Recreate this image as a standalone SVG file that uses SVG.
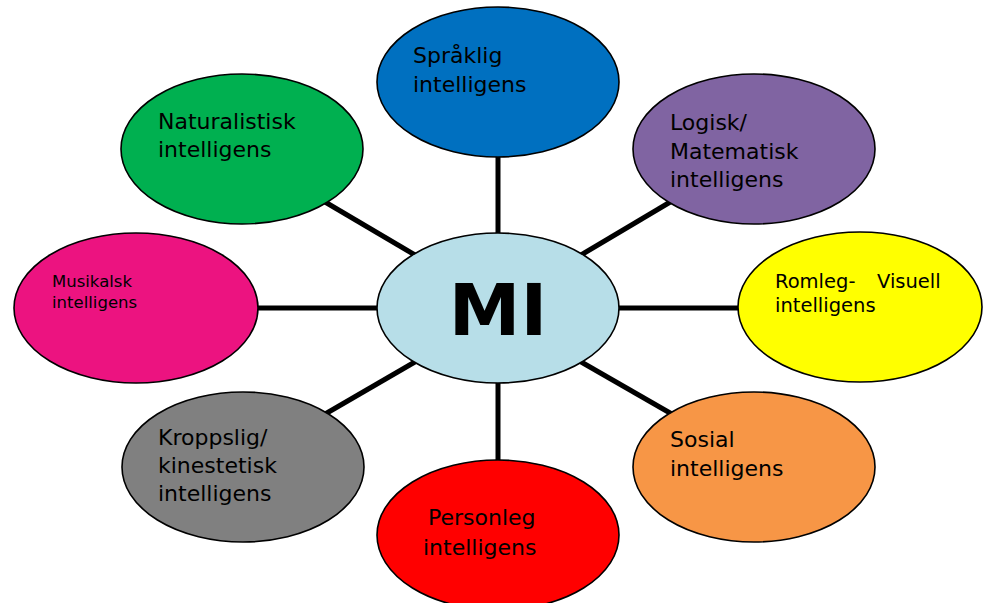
<svg xmlns="http://www.w3.org/2000/svg" width="986" height="603" viewBox="0 0 986 603">
<style>
.n{stroke:#000;stroke-width:1.6}
.t{font-family:"DejaVu Sans","Liberation Sans",sans-serif;font-size:22px;fill:#000}
.c line{stroke:#000;stroke-width:5}
</style>
<rect width="986" height="603" fill="#fff"/>
<g id="connectors" class="c">
<line x1="498" y1="150" x2="498" y2="240"/>
<line x1="498" y1="376" x2="498" y2="468"/>
<line x1="250" y1="308" x2="384" y2="308"/>
<line x1="612" y1="308" x2="746" y2="308"/>
<line x1="320" y1="199" x2="420" y2="258"/>
<line x1="576" y1="258" x2="677" y2="198"/>
<line x1="420" y1="359" x2="320" y2="417"/>
<line x1="576" y1="359" x2="677" y2="417"/>
</g>
<g id="mi">
<ellipse class="n" cx="498" cy="308" rx="121" ry="75" fill="#B7DEE8"/>
<text x="498" y="335" text-anchor="middle" style="font-family:'DejaVu Sans','Liberation Sans',sans-serif;font-weight:bold;font-size:72px">MI</text>
</g>
<g id="spraklig">
<ellipse class="n" cx="498" cy="82" rx="121" ry="75" fill="#0070C0"/>
<text class="t" x="413" y="63">Språklig</text>
<text class="t" x="413" y="92">intelligens</text>
</g>
<g id="naturalistisk">
<ellipse class="n" cx="242" cy="149" rx="121" ry="75" fill="#00B050"/>
<text class="t" x="158" y="129">Naturalistisk</text>
<text class="t" x="158" y="157">intelligens</text>
</g>
<g id="logisk">
<ellipse class="n" cx="754" cy="149" rx="121" ry="75" fill="#8064A2"/>
<text class="t" x="670" y="130">Logisk/</text>
<text class="t" x="670" y="159">Matematisk</text>
<text class="t" x="670" y="187">intelligens</text>
</g>
<g id="musikalsk">
<ellipse class="n" cx="136" cy="308" rx="122" ry="75" fill="#EC1380"/>
<text class="t" x="52" y="287" style="font-size:16.5px">Musikalsk</text>
<text class="t" x="52" y="308" style="font-size:16.5px">intelligens</text>
</g>
<g id="romleg">
<ellipse class="n" cx="860" cy="307" rx="122" ry="75" fill="#FFFF00"/>
<text class="t" x="775" y="288" style="font-size:19.5px"><tspan>Romleg-</tspan><tspan x="877">Visuell</tspan></text>
<text class="t" x="775" y="312" style="font-size:19.5px">intelligens</text>
</g>
<g id="kroppslig">
<ellipse class="n" cx="243" cy="467" rx="121" ry="75" fill="#808080"/>
<text class="t" x="158" y="445">Kroppslig/</text>
<text class="t" x="158" y="473">kinestetisk</text>
<text class="t" x="158" y="501">intelligens</text>
</g>
<g id="sosial">
<ellipse class="n" cx="754" cy="467" rx="121" ry="75" fill="#F79646"/>
<text class="t" x="670" y="447">Sosial</text>
<text class="t" x="670" y="476">intelligens</text>
</g>
<g id="personleg">
<ellipse class="n" cx="498" cy="535" rx="121" ry="75" fill="#FF0000"/>
<text class="t" x="428" y="525">Personleg</text>
<text class="t" x="423" y="555">intelligens</text>
</g>
</svg>
